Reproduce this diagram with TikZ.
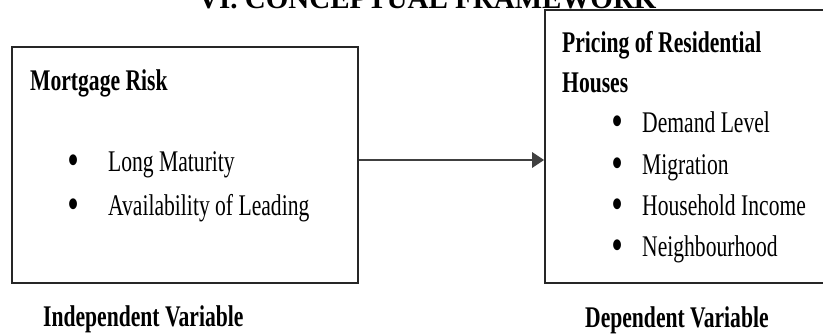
\documentclass[tikz,border=0pt]{standalone}
\usepackage{fontspec}
\setmainfont{Liberation Serif}
\newfontfamily\cf[FakeStretch=0.72]{Liberation Serif}
\usetikzlibrary{arrows.meta}
\tikzset{
  boxframe/.style={draw=black!85, line width=1.6pt, inner sep=0pt},
  head/.style={anchor=base west, inner sep=0pt, font=\cf\fontsize{30}{30}\selectfont\bfseries},
  item/.style={anchor=base west, inner sep=0pt, font=\cf\fontsize{30}{30}\selectfont},
  dot/.style={anchor=base west, inner sep=0pt, font=\cf\fontsize{40}{40}\selectfont\bfseries},
  caption/.style={anchor=base west, inner sep=0pt, font=\cf\fontsize{30}{30}\selectfont\bfseries},
  link/.style={draw=black!75, line width=2.6pt, -{Triangle[length=12pt,width=15pt]}}
}
\begin{document}
\begin{tikzpicture}[x=1pt,y=-1pt]
\useasboundingbox (0,0) rectangle (823,336);
\clip (0,0) rectangle (823,336);
% title (cut off at the top)
\node[anchor=base west, inner sep=0pt, font=\fontsize{29}{29}\selectfont\bfseries] (title) at (198,9) {VI. CONCEPTUAL FRAMEWORK};
% boxes
\node[boxframe, minimum width=346pt, minimum height=236pt] (indep) at (185,165) {};
\node[boxframe, minimum width=300pt, minimum height=273pt] (dep) at (695,146.5) {};
% left box text
\node[head] (mr) at (30,91) {Mortgage Risk};
\node[dot] (b1) at (68,174) {•};
\node[item] (lm) at (108,172) {Long Maturity};
\node[dot] (b2) at (68,218) {•};
\node[item] (al) at (108,216) {Availability of Leading};
% right box text
\node[head] (pr) at (562,53) {Pricing of Residential};
\node[head] (ho) at (562,93) {Houses};
\node[dot] (d1) at (612,135) {•};
\node[item] (dl) at (642,133) {Demand Level};
\node[dot] (d2) at (612,177) {•};
\node[item] (mi) at (642,175) {Migration};
\node[dot] (d3) at (612,218) {•};
\node[item] (hi) at (642,216) {Household Income};
\node[dot] (d4) at (612,259) {•};
\node[item] (nb) at (642,257) {Neighbourhood};
% captions
\node[caption] (iv) at (43,327) {Independent\ Variable};
\node[caption] (dv) at (585,328) {Dependent\ Variable};
% connector
\coordinate (ay) at (0,160);
\draw[link] (indep.east |- ay) -- (dep.west |- ay);
\end{tikzpicture}
\end{document}
